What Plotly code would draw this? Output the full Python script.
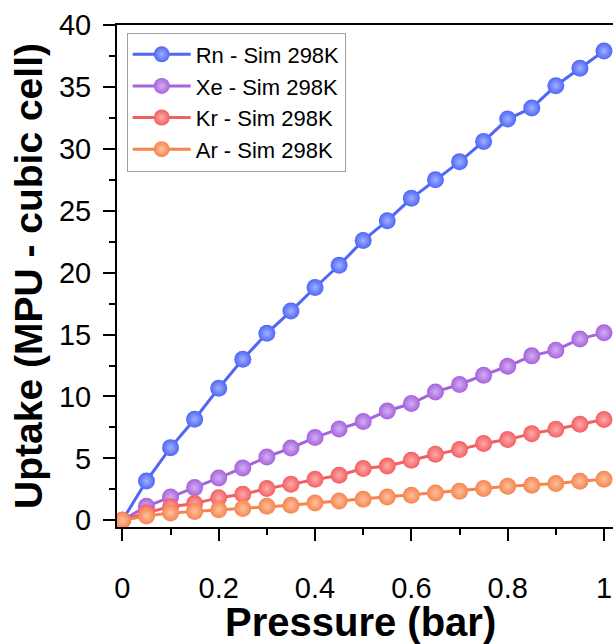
import plotly.graph_objects as go

# Pressure points (bar)
pressure = [0.00, 0.05, 0.10, 0.15, 0.20, 0.25, 0.30, 0.35, 0.40, 0.45, 0.50,
            0.55, 0.60, 0.65, 0.70, 0.75, 0.80, 0.85, 0.90, 0.95, 1.00]

# Simulated uptake at 298 K (molecules per unit cell, cubic cell)
rn_uptake = [0.0, 3.18, 5.87, 8.16, 10.67, 13.0, 15.1, 16.9, 18.8, 20.6, 22.6,
             24.2, 26.0, 27.5, 28.95, 30.6, 32.4, 33.3, 35.1, 36.5, 37.9]
xe_uptake = [0.0, 1.13, 1.88, 2.64, 3.42, 4.23, 5.12, 5.84, 6.68, 7.38, 7.98,
             8.83, 9.43, 10.37, 10.97, 11.72, 12.44, 13.28, 13.74, 14.65, 15.14]
kr_uptake = [0.0, 0.62, 1.10, 1.35, 1.83, 2.10, 2.56, 2.91, 3.31, 3.64, 4.18,
             4.39, 4.85, 5.33, 5.71, 6.20, 6.52, 7.00, 7.35, 7.76, 8.14]
ar_uptake = [0.0, 0.35, 0.60, 0.72, 0.85, 0.95, 1.13, 1.21, 1.40, 1.56, 1.70,
             1.88, 2.02, 2.21, 2.34, 2.56, 2.75, 2.83, 2.97, 3.15, 3.32]

series_names = ["Rn - Sim 298K", "Xe - Sim 298K", "Kr - Sim 298K", "Ar - Sim 298K"]
series_values = [rn_uptake, xe_uptake, kr_uptake, ar_uptake]
series_colors = ["#4f66f7", "#a563dc", "#f25f62", "#f5854f"]
highlight_colors = ["#9fb0ff", "#d3aef2", "#ffabab", "#ffc19e"]

FONT = "Liberation Sans, Arial, sans-serif"

fig = go.Figure()
for name, vals, col, hl in zip(series_names, series_values, series_colors, highlight_colors):
    fig.add_trace(go.Scatter(
        x=pressure, y=vals, name=name, mode="lines+markers",
        line=dict(color=col, width=3),
        marker=dict(size=17, color=col, line=dict(width=0),
                    gradient=dict(type="radial", color=hl)),
    ))

axis_common = dict(
    showline=True, linecolor="black", linewidth=2,
    ticks="outside", ticklen=12, tickwidth=2, tickcolor="black",
    showgrid=False, zeroline=False, automargin=False,
    tickfont=dict(family=FONT, size=29, color="black"),
)

fig.update_layout(
    width=613, height=644,
    margin=dict(l=117, r=0, t=25, b=117),
    paper_bgcolor="white", plot_bgcolor="white",
    font=dict(family=FONT, color="black"),
    xaxis=dict(
        range=[-0.0112, 1.0187], tickmode="linear", tick0=0, dtick=0.2,
        tickformat="~g", mirror=True, ticklabelstandoff=22,
        minor=dict(ticks="outside", ticklen=6, tickwidth=2, tickcolor="black", dtick=0.1),
        **axis_common,
    ),
    yaxis=dict(
        range=[-0.54, 40], tickmode="linear", tick0=0, dtick=5,
        ticklabelstandoff=6,
        minor=dict(ticks="outside", ticklen=6, tickwidth=2, tickcolor="black", dtick=2.5),
        title=dict(text="<b>Uptake (MPU - cubic cell)</b>", font=dict(family=FONT, size=39),
                   standoff=4),
        **axis_common,
    ),
    legend=dict(
        x=0.0196, y=0.985, xanchor="left", yanchor="top",
        bordercolor="#a0a0a0", borderwidth=1, bgcolor="white",
        font=dict(family=FONT, size=22, color="black"),
        tracegroupgap=0, itemwidth=58,
    ),
    showlegend=True,
)

# x-axis title placed below the tick labels
fig.add_annotation(
    text="<b>Pressure (bar)</b>", xref="paper", yref="paper",
    x=0.49, y=-0.19, xanchor="center", yanchor="middle", showarrow=False,
    font=dict(family=FONT, size=40, color="black"),
)

fig.write_html("out.html")
